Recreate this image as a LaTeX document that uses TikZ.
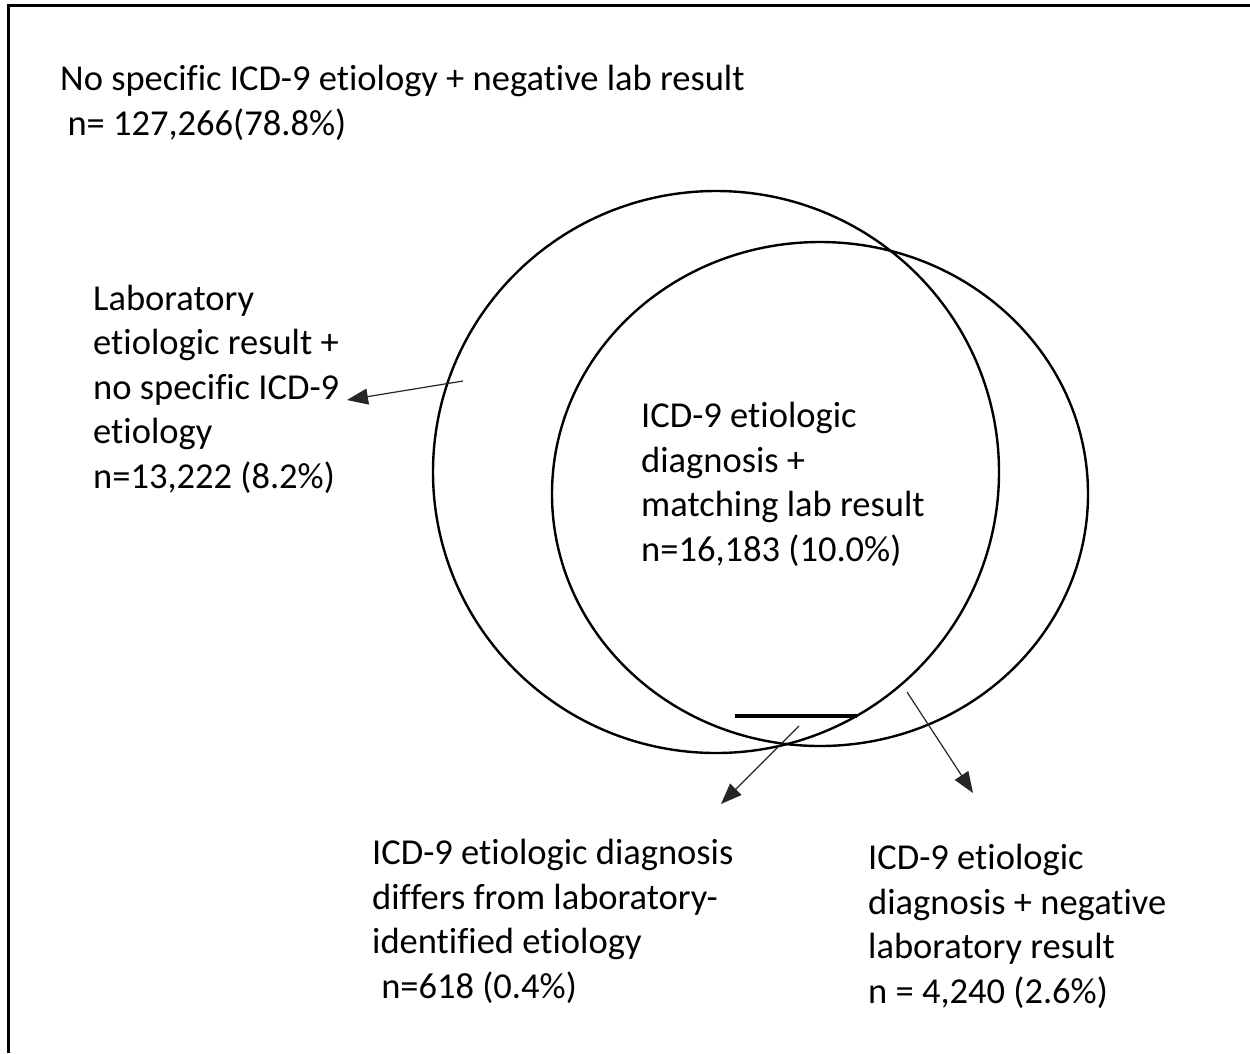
\documentclass[tikz,border=0pt]{standalone}
\usepackage{fontspec}
\setmainfont[RawFeature={-liga}]{Carlito}
\usetikzlibrary{arrows.meta}
\begin{document}
\begin{tikzpicture}[x=1pt,y=-1pt,
  lbl/.style={anchor=base west, align=left, inner sep=0pt,
    font=\fontsize{36.5}{44.5}\selectfont},
  ring/.style={line width=2.4pt},
  pointer/.style={line width=1.2pt, draw=black!85,
    -{Triangle[length=21pt,width=16pt]}},
  frameline/.style={line width=3.5pt}]
\useasboundingbox (0,0) rectangle (1250,1053);
\fill[white] (0,0) rectangle (1250,1053);
% frame (open at right and bottom)
\draw[frameline] (8.5,1053) -- (8.5,5.5) -- (1250,5.5);
% circles
\draw[ring] (716,472) ellipse [x radius=283, y radius=281];
\draw[ring] (820,494) ellipse [x radius=268, y radius=252];
% thick bar
\draw[line width=3.8pt] (735,716) -- (857,716);
% labels (anchor = baseline of the last line)
\node[lbl] (neg) at (60,135) {No specific ICD-9 etiology + negative lab result\\\hspace*{0.2em}n= 127,266(78.8\%)};
\node[lbl] (labonly) at (93,488) {Laboratory\\etiologic result +\\no specific ICD-9\\etiology\\n=13,222 (8.2\%)};
\node[lbl] (match) at (641,561) {ICD-9 etiologic\\diagnosis +\\matching lab result\\n=16,183 (10.0\%)};
\node[lbl] (differ) at (372,998) {ICD-9 etiologic diagnosis\\differs from laboratory-\\identified etiology\\\hspace*{0.25em}n=618 (0.4\%)};
\node[lbl] (icdonly) at (868,1003) {ICD-9 etiologic\\diagnosis + negative\\laboratory result\\n = 4,240 (2.6\%)};
% arrow end points
\coordinate (s1) at (463,381);
\coordinate (t1) at (347,400);
\coordinate (s2) at (799,726);
\coordinate (t2) at (721,804);
\coordinate (s3) at (907,692);
\coordinate (t3) at (973,793);
\draw[pointer] (s1) -- (t1);
\draw[pointer] (s2) -- (t2);
\draw[pointer] (s3) -- (t3);
\end{tikzpicture}
\end{document}
